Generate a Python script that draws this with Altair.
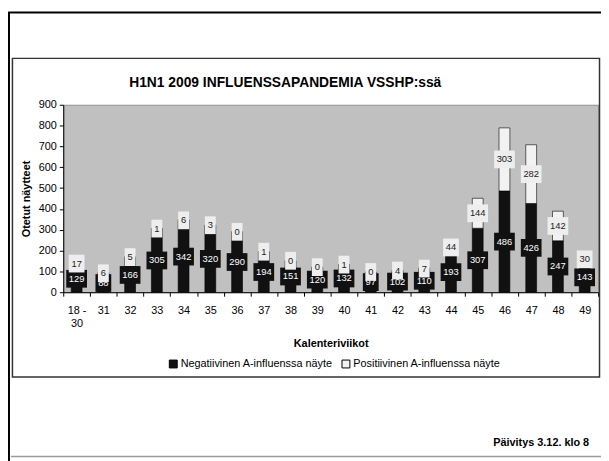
import altair as alt
import pandas as pd

weeks = ["18 - 30", "31", "32", "33", "34", "35", "36", "37", "38", "39",
         "40", "41", "42", "43", "44", "45", "46", "47", "48", "49"]
negative = [129, 88, 166, 305, 342, 320, 290, 194, 151, 120,
            132, 97, 102, 110, 193, 307, 486, 426, 247, 143]
positive = [17, 6, 5, 1, 6, 3, 0, 1, 0, 0,
            1, 0, 4, 7, 44, 144, 303, 282, 142, 30]
series_names = ["Negatiivinen A-influenssa näyte", "Positiivinen A-influenssa näyte"]
y_ticks = [0, 100, 200, 300, 400, 500, 600, 700, 800, 900]
title_text = "H1N1 2009 INFLUENSSAPANDEMIA VSSHP:ssä"
update_text = "Päivitys 3.12. klo 8"

rows = []
for w, n, p in zip(weeks, negative, positive):
    rows.append({"week": w, "series": series_names[0], "value": n, "order": 0})
    rows.append({"week": w, "series": series_names[1], "value": p, "order": 1})
df = pd.DataFrame(rows)
dummy = pd.DataFrame({"a": [0]})

FONT = "Liberation Sans"

xaxis = alt.Axis(title="Kalenteriviikot", labelAngle=0, tickBand="extent",
                 tickSize=4, tickColor="black", domainColor="black",
                 labelPadding=9, labelFontSize=11, labelLineHeight=13,
                 labelBaseline="top", labelColor="black", labelOverlap=False,
                 labelExpr="datum.value == '18 - 30' ? ['18 -', '30'] : datum.label",
                 titleY=52, titleBaseline="middle", titleFontSize=11,
                 titleFontWeight="bold", titleColor="black")
xscale = alt.Scale(paddingInner=0, paddingOuter=0)
yscale = alt.Scale(domain=[0, 900], nice=False)
yaxis = alt.Axis(values=y_ticks, grid=False, tickSize=4,
                 tickColor="black", domainColor="black", labelFontSize=11,
                 labelPadding=3, labelColor="black", labelOverlap=False,
                 title="Otetut näytteet", titleX=-37, titleY=95, titleAngle=-90,
                 titleAlign="center", titleBaseline="middle", titleFontSize=11,
                 titleFontWeight="bold", titleColor="black")

def X():
    return alt.X("week:N", sort=weeks, scale=xscale, axis=xaxis)

def Y(field, **kw):
    return alt.Y(field, scale=yscale, axis=yaxis, **kw)

color = alt.Color("series:N",
                  scale=alt.Scale(domain=series_names, range=["#111111", "#F2F2F2"]),
                  legend=alt.Legend(title=None, orient="none", legendX=106, legendY=257,
                                    direction="horizontal", symbolType="square",
                                    symbolSize=64, symbolStrokeColor="black",
                                    symbolStrokeWidth=1, labelFontSize=11,
                                    labelColor="black", columnPadding=6, labelOffset=2))

bars = alt.Chart(df).mark_bar(size=11, stroke="black", strokeWidth=0.6).encode(
    x=X(),
    y=Y("value:Q", stack="zero"),
    color=color,
    order=alt.Order("order:Q"),
)

lab = alt.Chart(df).transform_stack(
    stack="value", groupby=["week"], sort=[alt.SortField("order")], as_=["y0", "y1"]
).transform_calculate(
    mid="(datum.y0 + datum.y1) / 2",
    w="length(toString(datum.value)) * 5 + 6",
)

def boxes(idx, fill):
    return lab.transform_filter(alt.datum.order == idx).mark_tick(
        thickness=18, color=fill, opacity=1, filled=True
    ).encode(
        x=X(),
        y=Y("mid:Q"),
        size=alt.Size("w:Q", scale=None),
    )

def texts(idx, col):
    return lab.transform_filter(alt.datum.order == idx).mark_text(
        fontSize=9.5, color=col, align="center", baseline="middle"
    ).encode(
        x=X(),
        y=Y("mid:Q"),
        text=alt.Text("value:Q"),
    )

outer = alt.Chart(dummy).mark_rect(filled=False, stroke="black", strokeWidth=2).encode(
    x=alt.value(-55), x2=alt.value(620), y=alt.value(-93.5), y2=alt.value(420))
inner = alt.Chart(dummy).mark_rect(filled=False, stroke="#333333", strokeWidth=1.5).encode(
    x=alt.value(-51.5), x2=alt.value(543.5), y=alt.value(-47), y2=alt.value(276))
bottom_line = alt.Chart(dummy).mark_rule(color="#9a9a9a", strokeWidth=1.5).encode(
    x=alt.value(-53), x2=alt.value(560), y=alt.value(356.5))
title = alt.Chart(dummy).mark_text(fontSize=14, fontWeight="bold", align="center",
                                   baseline="middle", color="black").encode(
    x=alt.value(225), y=alt.value(-22), text=alt.value(title_text))
update = alt.Chart(dummy).mark_text(fontSize=11, fontWeight="bold", align="right",
                                    baseline="middle", color="black").encode(
    x=alt.value(533), y=alt.value(343), text=alt.value(update_text))

chart = alt.layer(
    bars,
    boxes(0, "#111111"), texts(0, "white"),
    boxes(1, "#EEEEEE"), texts(1, "#222222"),
    outer, inner, bottom_line, title, update,
).properties(
    width=542, height=190,
    autosize=alt.AutoSizeParams(type="none"),
    padding={"left": 56, "top": 95, "right": 3, "bottom": 168},
).configure(font=FONT).configure_view(fill="#C0C0C0", stroke="#909090", strokeWidth=1)

chart.save("out.html", embed_options={"renderer": "svg", "actions": False})
